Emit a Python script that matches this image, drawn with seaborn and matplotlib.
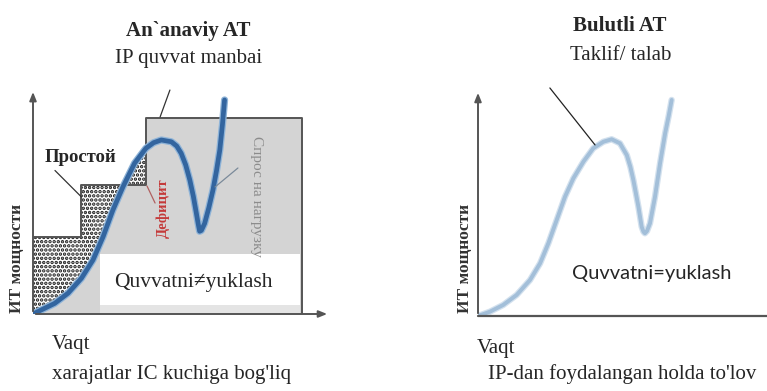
import numpy as np
import matplotlib
matplotlib.use("Agg")
import matplotlib.pyplot as plt
from matplotlib.patches import Polygon, Rectangle
import pandas as pd
import seaborn as sns

# Demand for IT capacity over time (arbitrary units, 0..100), traditional IT panel
demand_t = [0, 2.8, 7.3, 11.8, 16.3, 20.2, 23.6, 26.9, 30.3, 34.2, 38.0, 40.6,
            43.2, 46.6, 48.4, 49.9, 51.4, 52.8, 54.0, 55.0, 55.6, 56.1, 56.7,
            57.8, 59.2, 60.6, 61.8, 62.9, 63.8, 64.5]
demand_c = [0, 1.8, 4.7, 9.2, 15.8, 23.9, 34.2, 46.0, 56.3, 66.7, 73.3, 75.8,
            77.0, 76.2, 74.3, 71.1, 66.0, 59.3, 52.0, 44.6, 40.0, 36.6, 37.0,
            40.1, 47.0, 54.9, 63.5, 72.6, 84.0, 94.7]

# Same demand in the cloud IT panel
cloud_t = [0, 4.0, 8.5, 13.0, 17.5, 20.9, 23.7, 26.5, 29.3, 32.1, 35.5, 38.8,
           42.2, 45.0, 47.8, 50.1, 51.3, 52.3, 53.2, 54.0, 55.1, 55.7, 56.2,
           56.9, 57.9, 59.6, 61.3, 63.0, 64.2, 65.2]
cloud_c = [0, 1.9, 4.9, 9.3, 15.9, 23.3, 32.2, 42.5, 52.8, 60.9, 68.3, 74.2,
           77.1, 78.2, 76.4, 71.2, 66.0, 60.2, 54.0, 48.4, 39.5, 37.3, 36.6,
           37.6, 41.0, 52.8, 67.6, 80.8, 88.5, 95.6]

# Capacity bought in steps by traditional IT: step edges and levels
step_t = [0, 16.3, 38.0, 90.6]
step_c = [34.2, 57.1, 86.7]

demand = pd.DataFrame({"t": demand_t, "c": demand_c})
cloud = pd.DataFrame({"t": cloud_t, "c": cloud_c})

sns.set_style("white")
plt.rcParams["font.family"] = ["Liberation Serif", "DejaVu Serif"]
plt.rcParams["hatch.linewidth"] = 1.7

W, H = 767, 391
fig = plt.figure(figsize=(W / 100, H / 100), dpi=100)


def px_axes(x0, y0, x1, y1):
    return fig.add_axes([x0 / W, 1 - y1 / H, (x1 - x0) / W, (y1 - y0) / H])


def ftext(x, y, s, **kw):
    fig.text(x / W, 1 - y / H, s, **kw)


AX = "#555555"
ARROW = dict(arrowstyle="-|>,head_length=0.5,head_width=0.2", color=AX, lw=1.4)

# ---------------- left panel: traditional IT ----------------
axL = px_axes(33, 88, 330, 314)

# provisioned capacity (grey staircase)
st_x, st_y = [], []
for i in range(len(step_c)):
    st_x += [step_t[i], step_t[i + 1]]
    st_y += [step_c[i], step_c[i]]
axL.fill_between(st_x, st_y, 0, color="#d4d4d4", lw=0, zorder=1)

# idle capacity / deficit: speckled region between demand and the steps
t_arr = np.array(demand_t)
c_arr = np.array(demand_c)
mask = t_arr <= step_t[2]
poly = list(zip(t_arr[mask], c_arr[mask]))
poly += [(step_t[2], step_c[1]), (step_t[1], step_c[1]),
         (step_t[1], step_c[0]), (step_t[0], step_c[0])]
axL.add_patch(Polygon(poly, closed=True, facecolor="white", edgecolor="#1a1a1a",
                      hatch="....", lw=0, zorder=2))

axL.plot(st_x + [st_x[-1]], st_y + [0], color=AX, lw=1.4, zorder=3)

# label box
axL.add_patch(Rectangle((22.6, 4.0), 67.3, 22.5, facecolor="white", lw=0, zorder=4))
axL.add_patch(Rectangle((22.6, 0.4), 67.3, 3.6, facecolor="#e4e4e4", lw=0, zorder=4))

# demand curve
sns.lineplot(data=demand, x="t", y="c", ax=axL, color="#8fb4d8", lw=5.2,
             sort=False, zorder=5)
sns.lineplot(data=demand, x="t", y="c", ax=axL, color="#33659f", lw=3.4,
             sort=False, zorder=6)

axL.annotate("", xy=(0, 99.5), xytext=(0, 0), annotation_clip=False,
             arrowprops=ARROW, zorder=7)
axL.annotate("", xy=(100, 0), xytext=(0, 0), annotation_clip=False,
             arrowprops=ARROW, zorder=7)


def leader(ax, p0, p1, color="#333333", lw=0.9):
    ax.annotate("", xy=p1, xytext=p0, annotation_clip=False,
                arrowprops=dict(arrowstyle="-", color=color, lw=lw,
                                shrinkA=0, shrinkB=0), zorder=8)


leader(axL, (46.1, 99.1), (42.8, 87.2))
leader(axL, (7.4, 63.5), (16.3, 51.8))
leader(axL, (38.4, 56.6), (41.1, 49.1), color="#b06060")
leader(axL, (69.0, 64.6), (61.3, 56.2), color="#7a8a9a")

axL.set_xlim(0, 100)
axL.set_ylim(0, 100)
axL.axis("off")

# ---------------- right panel: cloud IT ----------------
axR = px_axes(478, 90, 767, 316)
sns.lineplot(data=cloud, x="t", y="c", ax=axR, color="#d3e1ee", lw=4.6,
             sort=False, zorder=5)
sns.lineplot(data=cloud, x="t", y="c", ax=axR, color="#a3bfd9", lw=2.8,
             sort=False, zorder=6)
axR.annotate("", xy=(0, 100), xytext=(0, 0), annotation_clip=False,
             arrowprops=ARROW, zorder=7)
axR.plot([0, 97.3], [0, 0], color=AX, lw=1.6, zorder=7, clip_on=False)
leader(axR, (24.2, 100.9), (39.4, 75.7), color="#222222")
axR.set_xlim(0, 97.3)
axR.set_ylim(0, 100)
axR.axis("off")

# ---------------- texts ----------------
ftext(188, 31, "An`anaviy AT", ha="center", va="center", fontsize=15, weight="bold")
ftext(189, 59, "IP quvvat manbai", ha="center", va="center", fontsize=15)
ftext(80, 157, "Простой", ha="center", va="center", fontsize=13.5, weight="bold")
ftext(163, 208, "Дефицит", ha="center", va="center", fontsize=10.5, weight="bold",
      color="#c43a3a", rotation=90)
ftext(257, 196, "Спрос на нагрузку", ha="center", va="center", fontsize=11,
      color="#8c8c8c", rotation=270)
ftext(193, 283, "Quvvatni≠yuklash", ha="center", va="center", fontsize=15.5)
ftext(17, 258, "ИТ мощности", ha="center", va="center", fontsize=12.5, weight="bold",
      rotation=90, color="#333333")
ftext(52, 345, "Vaqt", ha="left", va="center", fontsize=15)
ftext(52, 374, "xarajatlar IC kuchiga bog'liq", ha="left", va="center", fontsize=15)

ftext(620, 26, "Bulutli AT", ha="center", va="center", fontsize=15, weight="bold")
ftext(621, 55, "Taklif/ talab", ha="center", va="center", fontsize=15)
ftext(652, 273, "Quvvatni=yuklash", ha="center", va="center", fontsize=14.5,
      family=["Lato", "DejaVu Sans"])
ftext(465, 258, "ИТ мощности", ha="center", va="center", fontsize=12.5, weight="bold",
      rotation=90, color="#333333")
ftext(477, 348, "Vaqt", ha="left", va="center", fontsize=15)
ftext(488, 374, "IP-dan foydalangan holda to'lov", ha="left", va="center", fontsize=15)

fig.savefig("out.png", dpi=100)
